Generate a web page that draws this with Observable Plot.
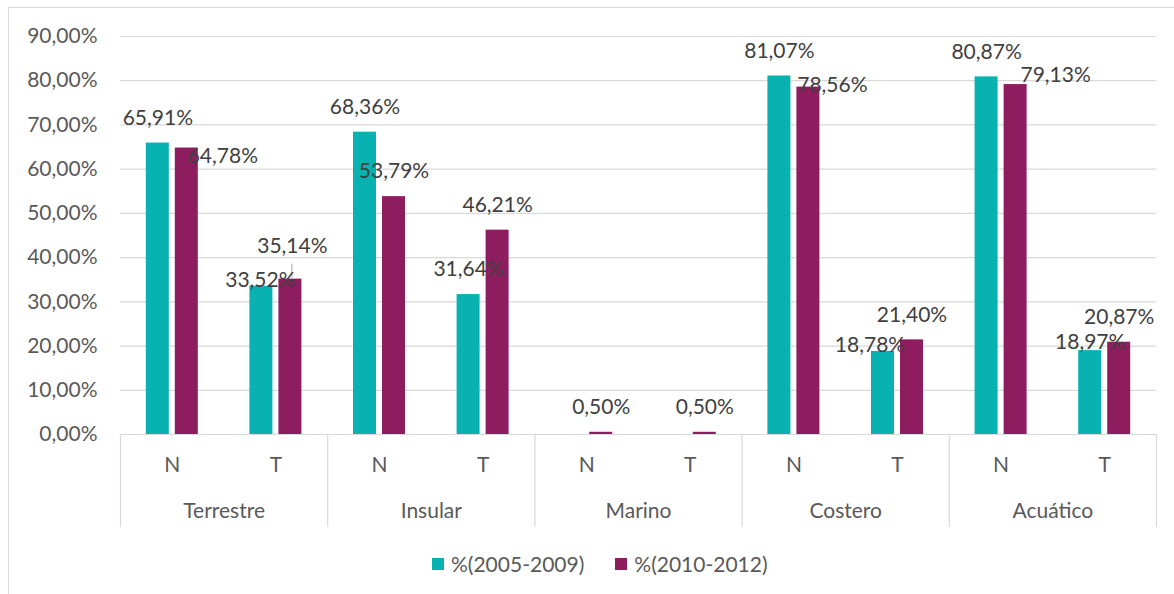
<!DOCTYPE html>
<html>
<head>
<meta charset="utf-8">
<script src="https://cdn.jsdelivr.net/npm/d3@7"></script>
<script src="https://cdn.jsdelivr.net/npm/@observablehq/plot@0.6"></script>
<style>
  html, body { margin: 0; padding: 0; background: #fff; }
  #wrap { position: relative; width: 1174px; height: 594px; overflow: hidden; font-family: Lato, "Open Sans", sans-serif; }
  #frame { position: absolute; left: 8px; top: 7px; width: 1300px; height: 700px; border-left: 1px solid #d9d9d9; border-top: 1px solid #d9d9d9; pointer-events: none; }
  #chart { position: absolute; left: 0; top: 0; }
  #legend { position: absolute; top: 551px; left: 432px; display: flex; align-items: center; font-size: 21px; color: #595959; }
  #legend .sw { width: 12px; height: 12px; display: inline-block; margin-right: 7px; }
  #legend .item { display: flex; align-items: center; margin-right: 31px; }
</style>
</head>
<body>
<div id="wrap">
  <div id="chart"></div>
  <div id="legend"></div>
  <div id="frame"></div>
</div>
<script>
// ---- data ----
const groups = ["Terrestre", "Insular", "Marino", "Costero", "Acuático"];
const subs = ["N", "T"];
const series = ["%(2005-2009)", "%(2010-2012)"];
const values2005 = [65.91, 33.52, 68.36, 31.64, null, null, 81.07, 18.78, 80.87, 18.97];
const values2010 = [64.78, 35.14, 53.79, 46.21, 0.50, 0.50, 78.56, 21.40, 79.13, 20.87];
const yTicks = [0, 10, 20, 30, 40, 50, 60, 70, 80, 90];

// ---- layout / style ----
const colors = ["#08b2b0", "#8e1d5f"];
const barOffset = [[0.249, 0.471], [0.529, 0.751]];
const defaultNudge = [0, -25];
// label nudges (pixels) for labels Excel moved away from their default spot
const labelNudges = {
  "1|0": [36, 8], "0|1": [-1, -6], "1|1": [2, -33],
  "1|6": [24, -2], "0|7": [-13, -6], "1|8": [40, -9], "0|9": [0, -8]
};
const fontSize = 21;
const textColor = "#595959";
const labelColor = "#404040";

const rows = [];
[values2005, values2010].forEach((vals, s) => {
  vals.forEach((v, i) => {
    rows.push({slot: i, group: groups[Math.floor(i / 2)], sub: subs[i % 2], series: series[s], s, value: v});
  });
});
const present = rows.filter(d => d.value != null);
const fmt = v => v.toFixed(2).replace(".", ",") + "%";
const center = d => d.slot + (barOffset[d.s][0] + barOffset[d.s][1]) / 2;

const labelMarks = present.map(d => {
  const n = labelNudges[d.s + "|" + d.slot] || defaultNudge;
  return Plot.text([d], {x: center, y: "value", text: d => fmt(d.value), dx: n[0], dy: n[1],
    fontSize, fill: labelColor});
});

const slots = d3.range(10).map(i => ({slot: i, sub: subs[i % 2]}));
const groupRows = groups.map((g, k) => ({g, k}));

const chart = Plot.plot({
  width: 1174,
  height: 545,
  marginLeft: 120,
  marginRight: 18,
  marginTop: 36,
  marginBottom: 111,
  style: {fontFamily: "Lato, 'Open Sans', sans-serif", fontSize: fontSize + "px", background: "transparent", overflow: "visible"},
  x: {domain: [0, 10], axis: null},
  y: {domain: [0, 90], axis: null},
  color: {domain: series, range: colors},
  marks: [
    Plot.gridY(yTicks, {stroke: "#d9d9d9", strokeOpacity: 1, strokeWidth: 1.2}),
    Plot.axisY(yTicks, {tickSize: 0, tickPadding: 23, tickFormat: fmt, fontSize, fill: textColor, label: null}),
    Plot.rectY(present, {
      x1: d => d.slot + barOffset[d.s][0],
      x2: d => d.slot + barOffset[d.s][1],
      y: "value",
      fill: "series"
    }),
    Plot.link(present.filter(d => d.s === 1 && d.slot === 1), {
      x1: center, x2: center, y1: d => d.value + 0.4, y2: d => d.value + 3.5,
      dx: 1.5, stroke: "#a6a6a6", strokeWidth: 1
    }),
    ...labelMarks,
    Plot.ruleX(d3.range(0, 11, 2), {x: d => d, y1: 0, y2: -21, stroke: "#d9d9d9", strokeWidth: 1.2}),
    Plot.text(slots, {x: d => d.slot + 0.5, frameAnchor: "bottom", dy: 37, text: "sub", fontSize, fill: textColor}),
    Plot.text(groupRows, {x: d => d.k * 2 + 1, frameAnchor: "bottom", dy: 83, text: "g", fontSize, fill: textColor})
  ]
});
document.getElementById("chart").appendChild(chart);

const legend = document.getElementById("legend");
series.forEach((s, i) => {
  const item = document.createElement("div");
  item.className = "item";
  const sw = document.createElement("span");
  sw.className = "sw";
  sw.style.background = colors[i];
  item.appendChild(sw);
  item.appendChild(document.createTextNode(s));
  legend.appendChild(item);
});
</script>
</body>
</html>
